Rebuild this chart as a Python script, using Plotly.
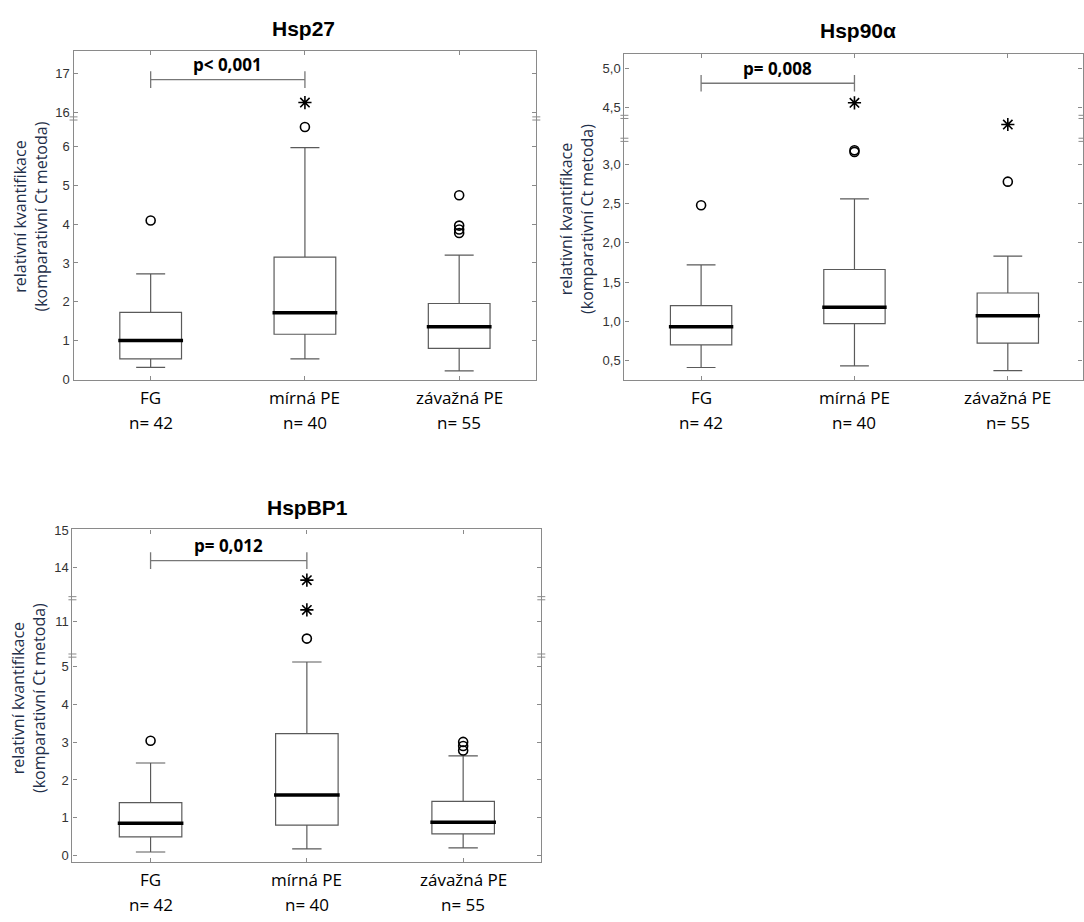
import plotly.graph_objects as go

W, H = 1084, 922

categories = ["FG", "mírná PE", "závažná PE"]
n_labels = ["n= 42", "n= 40", "n= 55"]

# ---- Hsp27 ----
hsp27_lower = [0.32, 0.54, 0.23]
hsp27_q1 = [0.54, 1.17, 0.81]
hsp27_median = [1.01, 1.72, 1.36]
hsp27_q3 = [1.73, 3.15, 1.96]
hsp27_upper = [2.72, 5.96, 3.20]
hsp27_circles = [[4.09], [6.49], [4.74, 3.96, 3.86, 3.77]]
hsp27_stars = [[], [16.26], []]

# ---- Hsp90alpha ----
hsp90_lower = [0.41, 0.43, 0.37]
hsp90_q1 = [0.70, 0.97, 0.72]
hsp90_median = [0.93, 1.18, 1.07]
hsp90_q3 = [1.20, 1.66, 1.36]
hsp90_upper = [1.72, 2.56, 1.83]
hsp90_circles = [[2.48], [3.18, 3.16], [2.78]]
hsp90_stars = [[], [4.56], [4.00]]

# ---- HspBP1 ----
hspbp1_lower = [0.09, 0.17, 0.20]
hspbp1_q1 = [0.49, 0.80, 0.57]
hspbp1_median = [0.85, 1.60, 0.88]
hspbp1_q3 = [1.40, 3.23, 1.43]
hspbp1_upper = [2.45, 5.13, 2.64]
hspbp1_circles = [[3.04], [10.54], [3.01, 2.90, 2.78]]
hspbp1_stars = [[], [11.30, 13.67], []]

# tick labels
hsp27_ticks = [[0, 1, 2, 3, 4, 5, 6], [16, 17]]
hsp90_ticks = [[0.5, 1.0, 1.5, 2.0, 2.5, 3.0], [], [4.5, 5.0]]
hspbp1_ticks = [[0, 1, 2, 3, 4, 5], [11], [14, 15]]

p_texts = ["p< 0,001", "p= 0,008", "p= 0,012"]
bracket_y = [16.85, 4.81, 14.19]
titles = ["Hsp27", "Hsp90α", "HspBP1"]

# layout (pixel geometry)
panels = [
    dict(title=titles[0], title_xy=(303.6, 22), ylab_xy=(31, 213),
         xpx=(73.6, 536.8), xrange=[-0.5, 2.5],
         segs=[(113.3, 379.0, [0, 6.71], hsp27_ticks[0]),
               (44.3, 113.3, [15.85, 17.60], hsp27_ticks[1])],
         stats=(hsp27_lower, hsp27_q1, hsp27_median, hsp27_q3, hsp27_upper),
         circles=hsp27_circles, stars=hsp27_stars, p=p_texts[0], by=bracket_y[0],
         comma=False),
    dict(title=titles[1], title_xy=(859, 24), ylab_xy=(577, 215),
         xpx=(625.0, 1083.5), xrange=[-0.5, 2.487],
         segs=[(135.0, 379.0, [0.253, 3.314], hsp90_ticks[0]),
               (111.7, 135.0, [3.8, 4.1], hsp90_ticks[1]),
               (47.3, 111.7, [4.38, 5.19], hsp90_ticks[2])],
         stats=(hsp90_lower, hsp90_q1, hsp90_median, hsp90_q3, hsp90_upper),
         circles=hsp90_circles, stars=hsp90_stars, p=p_texts[1], by=bracket_y[1],
         comma=True),
    dict(title=titles[2], title_xy=(307.9, 509), ylab_xy=(28.5, 702),
         xpx=(72.5, 541.8), xrange=[-0.5, 2.5],
         segs=[(659.3, 869.3, [-0.18, 5.30], hspbp1_ticks[0]),
               (601.0, 659.3, [10.09, 11.61], hspbp1_ticks[1]),
               (531.0, 601.0, [13.19, 15.02], hspbp1_ticks[2])],
         stats=(hspbp1_lower, hspbp1_q1, hspbp1_median, hspbp1_q3, hspbp1_upper),
         circles=hspbp1_circles, stars=hspbp1_stars, p=p_texts[2], by=bracket_y[2],
         comma=False),
]

AX = "#8a8a8a"
BOXC = "#5a5a5a"
BOX_W = 0.4


def px(x):
    return x / W


def py(y):
    return 1 - y / H


fig = go.Figure()
layout = dict(width=W, height=H, margin=dict(l=0, r=0, t=0, b=0),
              paper_bgcolor="white", plot_bgcolor="white", showlegend=False)
annotations = []
shapes = []

k = 0
for pnl in panels:
    segs = pnl["segs"]
    axis_ids = []
    for si, (ptop, pbot, rng, ticks) in enumerate(segs):
        k += 1
        axis_ids.append(k)
        xname = "xaxis" if k == 1 else f"xaxis{k}"
        yname = "yaxis" if k == 1 else f"yaxis{k}"
        xa = dict(domain=[px(pnl["xpx"][0]), px(pnl["xpx"][1])], range=pnl["xrange"],
                  anchor=f"y{k}" if k > 1 else "y", showgrid=False, zeroline=False,
                  tickvals=[0, 1, 2], showticklabels=False, fixedrange=True)
        if si == 0:
            xa.update(side="bottom", showline=True, linecolor=AX, linewidth=1.3,
                      ticks="inside", ticklen=4, tickcolor=AX)
        elif si == len(segs) - 1:
            xa.update(side="top", showline=True, linecolor=AX, linewidth=1.3,
                      ticks="inside", ticklen=4, tickcolor=AX)
        else:
            xa.update(showline=False, ticks="")
        ttext = [(f"{v:.1f}".replace(".", ",") if pnl["comma"] else f"{v:g}") for v in ticks]
        ya = dict(domain=[py(pbot), py(ptop)], range=rng,
                  anchor=f"x{k}" if k > 1 else "x", showgrid=False, zeroline=False,
                  showline=True, linecolor=AX, linewidth=1.3, mirror="ticks",
                  ticks="inside" if ticks else "", ticklen=4, tickcolor=AX,
                  tickvals=ticks, ticktext=ttext,
                  tickfont=dict(family="Arial", size=13, color="#333333"),
                  fixedrange=True)
        layout[xname] = xa
        layout[yname] = ya

    def xr(idx):
        return "x" if idx == 1 else f"x{idx}"

    def yr(idx):
        return "y" if idx == 1 else f"y{idx}"

    def seg_of(v):
        for si, (ptop, pbot, rng, ticks) in enumerate(segs):
            if rng[0] <= v <= rng[1]:
                return si
        return 0

    lo, q1, med, q3, up = pnl["stats"]
    base = axis_ids[0]
    fig.add_trace(go.Box(x=[0, 1, 2], q1=q1, median=med, q3=q3,
                         lowerfence=lo, upperfence=up, width=BOX_W, whiskerwidth=0.47,
                         fillcolor="white", line=dict(color=BOXC, width=1.2),
                         boxpoints=False, xaxis=xr(base), yaxis=yr(base)))
    mx, my = [], []
    for i, m in enumerate(med):
        mx += [i - BOX_W / 2 - 0.01, i + BOX_W / 2 + 0.01, None]
        my += [m, m, None]
    fig.add_trace(go.Scatter(x=mx, y=my, mode="lines",
                             line=dict(color="black", width=3.5),
                             xaxis=xr(base), yaxis=yr(base)))

    # outliers
    for kind, vals_list in (("circle-open", pnl["circles"]), ("asterisk-open", pnl["stars"])):
        for i, vals in enumerate(vals_list):
            for v in vals:
                si = seg_of(v)
                aid = axis_ids[si]
                fig.add_trace(go.Scatter(
                    x=[i], y=[v], mode="markers",
                    marker=dict(symbol=kind, size=9 if kind == "circle-open" else 11,
                                color="black", line=dict(color="black", width=1.6)),
                    xaxis=xr(aid), yaxis=yr(aid)))

    # significance bracket
    si = seg_of(pnl["by"])
    aid = axis_ids[si]
    ptop, pbot, rng, _ = segs[si]
    unit_per_px = (rng[1] - rng[0]) / (pbot - ptop)
    dt = 8.5 * unit_per_px
    b = pnl["by"]
    fig.add_trace(go.Scatter(x=[0, 0, None, 0, 1, None, 1, 1],
                             y=[b + dt, b - dt, None, b, b, None, b + dt, b - dt],
                             mode="lines", line=dict(color="#777777", width=1.3),
                             xaxis=xr(aid), yaxis=yr(aid)))
    annotations.append(dict(x=0.5, y=b, xref=xr(aid), yref=yr(aid), text=f"<b>{pnl['p']}</b>",
                            showarrow=False, yanchor="middle", yshift=15,
                            font=dict(family="Open Sans", size=17, color="black")))

    # title
    tx, ty = pnl["title_xy"]
    annotations.append(dict(x=px(tx), y=py(ty), xref="paper", yref="paper",
                            text=f"<b>{pnl['title']}</b>", showarrow=False,
                            xanchor="center", yanchor="middle",
                            font=dict(family="Arial", size=21, color="black")))
    # y label
    lx, ly = pnl["ylab_xy"]
    annotations.append(dict(x=px(lx), y=py(ly), xref="paper", yref="paper",
                            text="relativní kvantifikace<br>(komparativní Ct metoda)",
                            showarrow=False, textangle=-90, xanchor="center", yanchor="middle",
                            font=dict(family="Open Sans", size=16, color="#1f2f4a")))
    # category labels
    bottom_px = segs[0][1]
    for i, (c, n) in enumerate(zip(categories, n_labels)):
        annotations.append(dict(x=i, y=py(bottom_px + 17.5), xref=xr(base), yref="paper",
                                text=c, showarrow=False, xanchor="center", yanchor="middle",
                                font=dict(family="Open Sans", size=17, color="black")))
        annotations.append(dict(x=i, y=py(bottom_px + 43), xref=xr(base), yref="paper",
                                text=n, showarrow=False, xanchor="center", yanchor="middle",
                                font=dict(family="Open Sans", size=17, color="black")))

    # break marks
    for si in range(len(segs) - 1):
        ybp = segs[si][0]
        for xe in pnl["xpx"]:
            for dy in (-1.6, 1.6):
                shapes.append(dict(type="line", xref="paper", yref="paper",
                                   x0=px(xe - 4), x1=px(xe + 4),
                                   y0=py(ybp + dy), y1=py(ybp + dy),
                                   line=dict(color=AX, width=1)))

layout["annotations"] = annotations
layout["shapes"] = shapes
fig.update_layout(**layout)
fig.write_html("out.html")
